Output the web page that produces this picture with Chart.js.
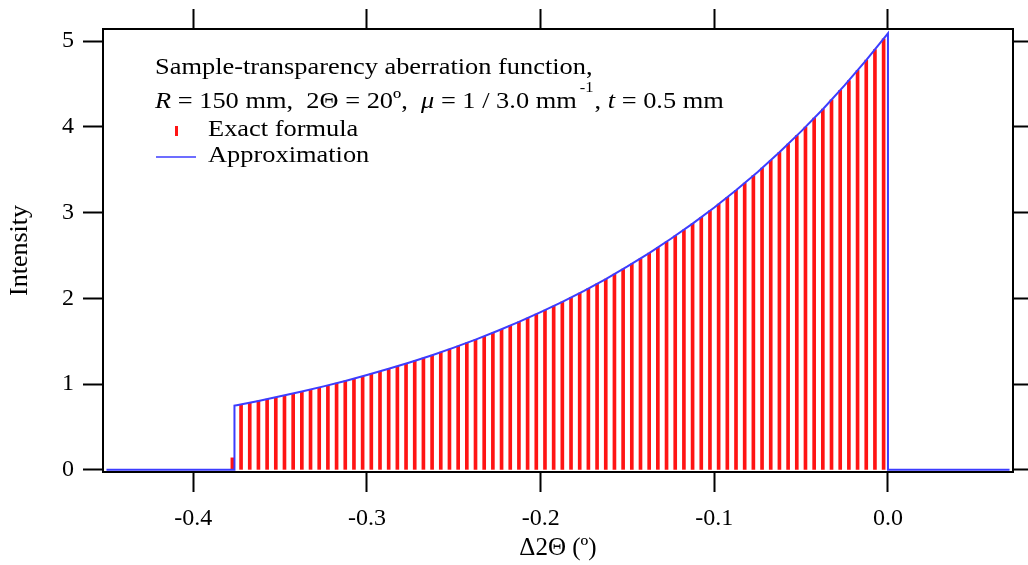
<!DOCTYPE html>
<html>
<head>
<meta charset="utf-8">
<script src="https://cdn.jsdelivr.net/npm/chart.js@4.4.1/dist/chart.umd.min.js"></script>
<style>
  html, body { margin: 0; padding: 0; background: #fff; }
  #wrap { width: 1028px; height: 565px; }
</style>
</head>
<body>
<div id="wrap"><canvas id="chart" width="1028" height="565"></canvas></div>
<script>
'use strict';

// ---- Data ----
// Exact formula: one red stick per bin
const exactX = [
  -0.3775, -0.3725, -0.3675, -0.3625, -0.3575, -0.3525, -0.3475, -0.3425, -0.3375, -0.3325,
  -0.3275, -0.3225, -0.3175, -0.3125, -0.3075, -0.3025, -0.2975, -0.2925, -0.2875, -0.2825,
  -0.2775, -0.2725, -0.2675, -0.2625, -0.2575, -0.2525, -0.2475, -0.2425, -0.2375, -0.2325,
  -0.2275, -0.2225, -0.2175, -0.2125, -0.2075, -0.2025, -0.1975, -0.1925, -0.1875, -0.1825,
  -0.1775, -0.1725, -0.1675, -0.1625, -0.1575, -0.1525, -0.1475, -0.1425, -0.1375, -0.1325,
  -0.1275, -0.1225, -0.1175, -0.1125, -0.1075, -0.1025, -0.0975, -0.0925, -0.0875, -0.0825,
  -0.0775, -0.0725, -0.0675, -0.0625, -0.0575, -0.0525, -0.0475, -0.0425, -0.0375, -0.0325,
  -0.0275, -0.0225, -0.0175, -0.0125, -0.0075, -0.0025
];
const exactY = [
  0.14,  0.764, 0.784, 0.804, 0.824, 0.846, 0.867, 0.890, 0.913, 0.936,
  0.960, 0.985, 1.011, 1.037, 1.063, 1.091, 1.119, 1.148, 1.177, 1.208,
  1.239, 1.271, 1.304, 1.337, 1.372, 1.407, 1.443, 1.481, 1.519, 1.558,
  1.598, 1.639, 1.682, 1.725, 1.769, 1.815, 1.862, 1.910, 1.959, 2.010,
  2.062, 2.115, 2.169, 2.225, 2.283, 2.341, 2.402, 2.464, 2.527, 2.593,
  2.659, 2.728, 2.798, 2.871, 2.945, 3.020, 3.098, 3.178, 3.260, 3.344,
  3.431, 3.519, 3.610, 3.703, 3.798, 3.896, 3.997, 4.100, 4.206, 4.314,
  4.425, 4.539, 4.657, 4.777, 4.900, 5.026
];

// Approximation: blue curve
const approxX = [
  -0.45, -0.3763, -0.3763, -0.375, -0.3625, -0.35, -0.3375, -0.325, -0.3125, -0.3,
  -0.2875, -0.275, -0.2625, -0.25, -0.2375, -0.225, -0.2125, -0.2, -0.1875, -0.175,
  -0.1625, -0.15, -0.1375, -0.125, -0.1125, -0.1, -0.0875, -0.075, -0.0625, -0.05,
  -0.0375, -0.025, -0.0125, 0, 0, 0.07
];
const approxY = [
  0, 0, 0.749, 0.754, 0.804, 0.857, 0.913, 0.973, 1.037, 1.105,
  1.178, 1.255, 1.337, 1.425, 1.519, 1.619, 1.725, 1.839, 1.959, 2.088,
  2.225, 2.372, 2.527, 2.694, 2.871, 3.059, 3.260, 3.474, 3.703, 3.946,
  4.205, 4.482, 4.776, 5.09, 0, 0
];

// ---- Axes ----
const xTicks = [-0.4, -0.3, -0.2, -0.1, 0.0];
const yTicks = [0, 1, 2, 3, 4, 5];
const X_MIN = -0.452, X_MAX = 0.072;
const Y_MIN = -0.025, Y_MAX = 5.14;

const SERIF = '"Liberation Serif", "Times New Roman", serif';
const RED  = '#ff1414';
const BLUE = '#3c3cff';

function fmtX(v) {
  if (Math.abs(v) < 1e-9) return '0.0';
  return v.toFixed(1);
}

const setTicks = vals => scale => { scale.ticks = vals.map(v => ({ value: v })); };

// black frame edge with outward tick marks
function frameGrid(len) {
  return { drawOnChartArea: false, drawTicks: true, offset: false, tickLength: len, tickWidth: 2, tickColor: '#000' };
}
const frameBorder = { display: true, color: '#000', width: 2 };

// ---- Text inside the plot: caption + legend ----
const captionPlugin = {
  id: 'caption',
  afterDraw(chart) {
    const ctx = chart.ctx;
    const size = 24;
    const sx = 1.1; // reference type is a little wider than Liberation Serif
    ctx.save();
    ctx.fillStyle = '#000';
    ctx.textBaseline = 'middle';
    ctx.textAlign = 'left';

    const text = (s, x, y, font) => {
      ctx.font = font;
      ctx.save();
      ctx.translate(x, y);
      ctx.scale(sx, 1);
      ctx.fillText(s, 0, 0);
      ctx.restore();
      return ctx.measureText(s).width * sx;
    };

    text('Sample-transparency aberration function,', 155, 68, `${size}px ${SERIF}`);

    // second line, mixed italic / superscript
    const parts = [
      { t: 'R', i: true },
      { t: ' = 150 mm,  2Θ = 20º,  ' },
      { t: 'μ', i: true },
      { t: ' = 1 / 3.0 mm' },
      { t: '-1', sup: true },
      { t: ', ' },
      { t: 't', i: true },
      { t: ' = 0.5 mm' }
    ];
    let x = 155;
    const y = 102;
    parts.forEach(p => {
      if (p.sup) {
        x += text(p.t, x + 3, y - 14, `15px ${SERIF}`) + 4;
      } else {
        x += text(p.t, x, y, `${p.i ? 'italic ' : ''}${size}px ${SERIF}`);
      }
    });

    // legend
    ctx.fillStyle = RED;
    ctx.fillRect(175, 126, 3, 10);
    ctx.fillStyle = '#000';
    text('Exact formula', 208, 130, `${size}px ${SERIF}`);

    ctx.strokeStyle = BLUE;
    ctx.lineWidth = 1.5;
    ctx.beginPath();
    ctx.moveTo(156, 157);
    ctx.lineTo(196, 157);
    ctx.stroke();
    text('Approximation', 208, 156, `${size}px ${SERIF}`);
    ctx.restore();
  }
};

const chart = new Chart(document.getElementById('chart'), {
  type: 'bar',
  data: {
    datasets: [
      {
        type: 'bar',
        label: 'Exact formula',
        data: exactX.map((v, i) => ({ x: v, y: exactY[i] })),
        backgroundColor: RED,
        borderWidth: 0,
        barThickness: 3,
        order: 2
      },
      {
        type: 'line',
        label: 'Approximation',
        data: approxX.map((v, i) => ({ x: v, y: approxY[i] })),
        borderColor: BLUE,
        borderWidth: 2,
        pointRadius: 0,
        fill: false,
        tension: 0,
        order: 1
      }
    ]
  },
  options: {
    responsive: false,
    animation: false,
    layout: { padding: 0 },
    plugins: {
      legend: { display: false },
      tooltip: { enabled: false }
    },
    scales: {
      x: {
        type: 'linear',
        position: 'bottom',
        offset: false,
        min: X_MIN,
        max: X_MAX,
        afterBuildTicks: setTicks(xTicks),
        afterFit: s => { s.height = 93; },
        grid: frameGrid(20),
        border: frameBorder,
        ticks: {
          padding: 12,
          maxRotation: 0,
          color: '#000',
          font: { family: SERIF, size: 24 },
          callback: v => fmtX(v)
        },
        title: {
          display: true,
          text: 'Δ2Θ (º)',
          color: '#000',
          font: { family: SERIF, size: 25 },
          padding: { top: 0, bottom: 2 }
        }
      },
      xTop: {
        type: 'linear',
        position: 'top',
        offset: false,
        min: X_MIN,
        max: X_MAX,
        afterBuildTicks: setTicks(xTicks),
        afterFit: s => { s.height = 29; },
        grid: frameGrid(20),
        border: frameBorder,
        ticks: { display: false }
      },
      y: {
        type: 'linear',
        position: 'left',
        min: Y_MIN,
        max: Y_MAX,
        afterBuildTicks: setTicks(yTicks),
        afterFit: s => { s.width = 103; },
        grid: frameGrid(20),
        border: frameBorder,
        ticks: {
          padding: 9,
          color: '#000',
          font: { family: SERIF, size: 24 }
        },
        title: {
          display: true,
          text: 'Intensity',
          color: '#000',
          font: { family: SERIF, size: 26 },
          padding: { top: 5, bottom: 0 }
        }
      },
      yRight: {
        type: 'linear',
        position: 'right',
        min: Y_MIN,
        max: Y_MAX,
        afterBuildTicks: setTicks(yTicks),
        afterFit: s => { s.width = 15; },
        grid: frameGrid(15),
        border: frameBorder,
        ticks: { display: false }
      }
    }
  },
  plugins: [captionPlugin]
});
</script>
</body>
</html>
